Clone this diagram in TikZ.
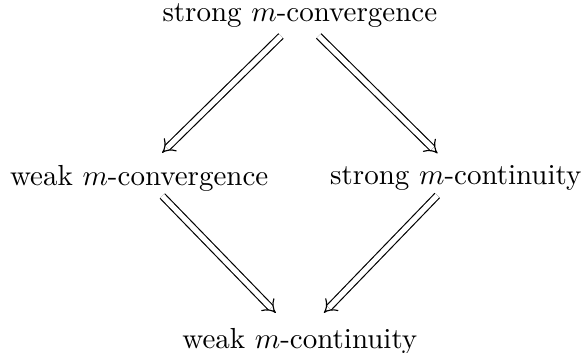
\documentclass[tikz,border=0pt]{standalone}
\usepackage{amsmath,amssymb}
\usepackage{tikz}
\usetikzlibrary{positioning, arrows.meta}

\begin{document}
\begin{tikzpicture}[
    term/.style={
        inner sep=3pt,
        font=\normalsize
    },
    line/.style={draw, double, double distance=1.8pt, -{Implies}}
]
\useasboundingbox (0,0) rectangle (201.4pt,121.4pt);

\node (sconv) [term] at (103.4pt,116.2pt) {strong $m$-convergence};
\node (wconv) [term] at (48pt,60pt) {weak $m$-convergence};
\node (scont) [term] at (157.2pt,60pt) {strong $m$-continuity};
\node (wcont) [term] at (103.4pt,3.8pt) {weak $m$-continuity};

\path [line] ([xshift=-6.5pt,yshift=0.1pt]sconv.south) -- ([xshift=7.9pt,yshift=1pt]wconv.north);
\path [line] ([xshift=6.5pt,yshift=0.1pt]sconv.south) -- ([xshift=-6.3pt,yshift=1pt]scont.north);
\path [line] ([xshift=8pt,yshift=1.5pt]wconv.south) -- ([xshift=-8.3pt,yshift=2pt]wcont.north);
\path [line] ([xshift=-6.4pt,yshift=1.5pt]scont.south) -- ([xshift=8.3pt,yshift=2pt]wcont.north);

\end{tikzpicture}
\end{document}
